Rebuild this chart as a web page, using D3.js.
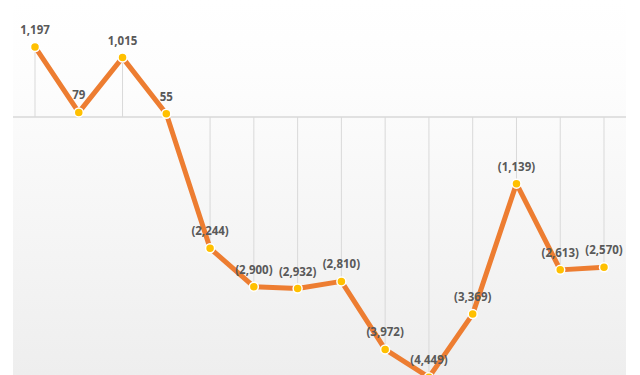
<!DOCTYPE html>
<html>
<head>
<meta charset="utf-8">
<script src="https://cdn.jsdelivr.net/npm/d3@7"></script>
<style>
  html, body { margin: 0; padding: 0; background: #ffffff; }
  svg { display: block; }
</style>
</head>
<body>
<svg id="chart" width="640" height="375"></svg>
<script>
// Period-by-period variance series
const periods = ["P1", "P2", "P3", "P4", "P5", "P6", "P7", "P8", "P9", "P10", "P11", "P12", "P13", "P14"];
const values = [1197, 79, 1015, 55, -2244, -2900, -2932, -2810, -3972, -4449, -3369, -1139, -2613, -2570];

const width = 640, height = 375;
const plot = { left: 13, right: 626 };

const svg = d3.select("#chart");

const x = d3.scalePoint().domain(periods).range([35, 604]);
const y = d3.scaleLinear().domain([-4410, 2000]).range([height, 0]);

// Plot-area background: soft vertical gradient
const defs = svg.append("defs");
const grad = defs.append("linearGradient")
  .attr("id", "bg").attr("x1", 0).attr("y1", 0).attr("x2", 0).attr("y2", 1);
grad.append("stop").attr("offset", "0%").attr("stop-color", "#ffffff");
grad.append("stop").attr("offset", "20%").attr("stop-color", "#fdfdfd");
grad.append("stop").attr("offset", "100%").attr("stop-color", "#eeeeee");

svg.append("rect")
  .attr("x", plot.left).attr("y", 0)
  .attr("width", plot.right - plot.left).attr("height", height)
  .attr("fill", "url(#bg)");

const data = periods.map((p, i) => ({ p, v: values[i] }));

// Drop lines from each point to the zero line
svg.append("g")
  .selectAll("line")
  .data(data)
  .join("line")
  .attr("x1", d => x(d.p)).attr("x2", d => x(d.p))
  .attr("y1", d => y(d.v)).attr("y2", y(0))
  .attr("stroke", "#d9d9d9")
  .attr("stroke-width", 1);

// Zero line
svg.append("line")
  .attr("x1", plot.left).attr("x2", plot.right)
  .attr("y1", y(0)).attr("y2", y(0))
  .attr("stroke", "#d9d9d9")
  .attr("stroke-width", 1.5);

// Series line
const line = d3.line().x(d => x(d.p)).y(d => y(d.v));
svg.append("path")
  .datum(data)
  .attr("d", line)
  .attr("fill", "none")
  .attr("stroke", "#ED7D31")
  .attr("stroke-width", 5)
  .attr("stroke-linejoin", "round");

// Markers
svg.append("g")
  .selectAll("circle")
  .data(data)
  .join("circle")
  .attr("cx", d => x(d.p))
  .attr("cy", d => y(d.v))
  .attr("r", 4.5)
  .attr("fill", "#FFC000")
  .attr("stroke", "#ffffff")
  .attr("stroke-width", 1.5);

// Value labels, negatives shown in parentheses
const fmt = d3.format(",");
const labelText = v => v < 0 ? "(" + fmt(-v) + ")" : fmt(v);

svg.append("g")
  .selectAll("text")
  .data(data)
  .join("text")
  .attr("x", d => x(d.p))
  .attr("y", d => y(d.v) - 13)
  .attr("text-anchor", "middle")
  .attr("font-family", "'Open Sans', sans-serif")
  .attr("font-weight", 700)
  .attr("font-size", 11.5)
  .attr("fill", "#595959")
  .text(d => labelText(d.v));
</script>
</body>
</html>
